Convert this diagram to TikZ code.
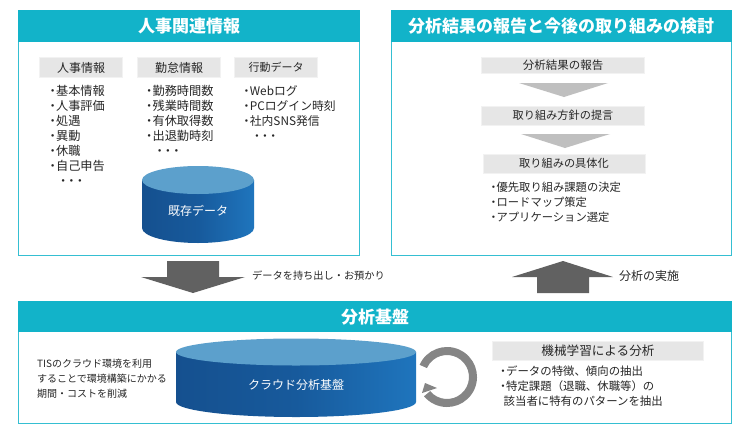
\documentclass[tikz,border=0pt]{standalone}
\usepackage{fontspec}
\setmainfont{Noto Sans CJK JP}
\usetikzlibrary{arrows.meta}
\definecolor{headfill}{HTML}{12B3C9}
\definecolor{panelline}{HTML}{35BFD2}
\definecolor{labelfill}{HTML}{E6E6E6}
\definecolor{flow}{HTML}{BFBFBF}
\definecolor{bigarrow}{HTML}{616161}
\definecolor{ring}{HTML}{858585}
\definecolor{disktop}{HTML}{5CA0CC}
\definecolor{bodytext}{HTML}{262626}
\definecolor{diskdark}{HTML}{15508F}
\definecolor{diskmid}{HTML}{175A9C}
\definecolor{disklight}{HTML}{1F75BD}
\definecolor{diskend}{HTML}{155C9E}
\pgfdeclarehorizontalshading{diskside}{100bp}{
  color(0bp)=(diskdark); color(25bp)=(diskdark); color(50bp)=(diskmid);
  color(75bp)=(disklight); color(100bp)=(diskend)}
\newcommand{\bul}{\kern-.3em・\kern-.22em}
\newcommand{\moredots}{・\kern-.32em・\kern-.32em・}
\tikzset{
  panel/.style={fill=panelline},
  headbar/.style={fill=headfill},
  headtext/.style={white,font=\bfseries\fontsize{17}{20}\selectfont},
  labelbox/.style={fill=labelfill,draw=white!95!black,line width=1pt},
  labeltext/.style={bodytext,font=\fontsize{12}{15}\selectfont},
  listtext/.style={bodytext,font=\fontsize{12.2}{15}\selectfont,align=left,anchor=north west,inner sep=0pt},
  sidetext/.style={bodytext,font=\fontsize{10.2}{15}\selectfont,anchor=west,inner sep=0pt},
  disktext/.style={white,font=\fontsize{12}{15}\selectfont},
}
\begin{document}
\begin{tikzpicture}[x=1pt,y=-1pt]
  \useasboundingbox (0,0) rectangle (755,437);
  \fill[white] (0,0) rectangle (755,437);

  % Left panel
  \fill[panel] (18,10) rectangle (359.5,255.5);
  \fill[white] (19,42) rectangle (358.5,254.5);
  \fill[headbar] (18,10) rectangle (359.5,42);
  \node[headtext] (leftTitle) at (189,26) {人事関連情報};

  \draw[labelbox] (39.5,57.5) rectangle (122,77);
  \node[labeltext] (jinjiLabel) at (81,67.5) {人事情報};
  \draw[labelbox] (137.5,57.5) rectangle (220,77);
  \node[labeltext] (kintaiLabel) at (179,67.5) {勤怠情報};
  \draw[labelbox] (234.5,57.5) rectangle (317,77);
  \node[labeltext,font=\fontsize{11}{15}\selectfont] (kodoLabel) at (276,67.5) {行動データ};

  \node[listtext] (jinjiList) at (50,85) {\bul 基本情報\\\bul 人事評価\\\bul 処遇\\\bul 異動\\\bul 休職\\\bul 自己申告\\\hspace*{7pt}\moredots};
  \node[listtext] (kintaiList) at (146.5,85) {\bul 勤務時間数\\\bul 残業時間数\\\bul 有休取得数\\\bul 出退勤時刻\\\hspace*{7pt}\moredots};
  \node[listtext,font=\fontsize{11.8}{15}\selectfont] (kodoList) at (244,85) {\bul Webログ\\\bul PCログイン時刻\\\bul 社内SNS発信\\\hspace*{7pt}\moredots};

  % Existing data disk
  \shade[shading=diskside] (142,180) -- (142,228) arc[start angle=180,end angle=0,x radius=56,y radius=15] -- (254,180) -- cycle;
  \fill[disktop] (198,180) ellipse [x radius=56,y radius=14];
  \node[disktext] (oldDisk) at (198,211) {既存データ};

  % Right panel
  \fill[panel] (391,10) rectangle (731.5,255.5);
  \fill[white] (392,42) rectangle (730.5,254.5);
  \fill[headbar] (391,10) rectangle (731.5,42);
  \node[headtext] (rightTitle) at (561,26) {分析結果の報告と今後の取り組みの検討};

  \draw[labelbox] (481,57) rectangle (644,73.5);
  \node[labeltext,font=\fontsize{11.5}{15}\selectfont] (reportLabel) at (563,65.5) {分析結果の報告};
  \fill[flow] (519,83) -- (608,83) -- (564,97) -- cycle;
  \draw[labelbox] (481,106) rectangle (644,125);
  \node[labeltext,font=\fontsize{11.2}{15}\selectfont] (policyLabel) at (563,115.5) {取り組み方針の提言};
  \fill[flow] (521,134) -- (610,134) -- (565,148) -- cycle;
  \draw[labelbox] (483,154) rectangle (645,173);
  \node[labeltext,font=\fontsize{11.2}{15}\selectfont] (planLabel) at (564,163.5) {取り組みの具体化};
  \node[listtext,font=\fontsize{11.3}{15}\selectfont] (planList) at (491,182) {\bul 優先取り組み課題の決定\\\bul ロードマップ策定\\\bul アプリケーション選定};

  % Big arrows
  \fill[bigarrow] (167,261) -- (219,261) -- (219,277) -- (245,277) -- (193,293) -- (141,277) -- (167,277) -- cycle;
  \node[sidetext] (outText) at (252,276) {データを持ち出し・お預かり};
  \fill[bigarrow] (537,293) -- (589,293) -- (589,277) -- (613,277) -- (563,261) -- (512,277) -- (537,277) -- cycle;
  \node[sidetext,font=\fontsize{12}{15}\selectfont] (doText) at (619,276) {分析の実施};

  % Bottom panel
  \fill[panel] (18,301) rectangle (731.5,423.5);
  \fill[white] (19,332) rectangle (730.5,422.5);
  \fill[headbar] (18,301) rectangle (731.5,332);
  \node[headtext] (baseTitle) at (375,317) {分析基盤};

  \node[listtext,font=\fontsize{10}{15}\selectfont] (tisText) at (37,359) {TISのクラウド環境を利用\\することで環境構築にかかる\\期間・コストを削減};

  % Cloud disk
  \shade[shading=diskside] (176,352) -- (176,402) arc[start angle=180,end angle=0,x radius=120,y radius=15] -- (416,352) -- cycle;
  \fill[disktop] (296,352) ellipse [x radius=120,y radius=13.5];
  \node[disktext] (cloudDisk) at (296,385) {クラウド分析基盤};

  % Loop arrow
  \fill[ring] (419.6,364.8) arc[start angle=204,end angle=500,radius=30] -- (430.15,391.14) arc[start angle=500,end angle=204,radius=22] -- cycle;
  \fill[ring] (422,393) -- (437,388) -- (425,383) -- cycle;

  % Machine learning box
  \draw[labelbox] (492,341) rectangle (703,360);
  \node[labeltext,font=\fontsize{12.6}{15}\selectfont] (mlLabel) at (598,351) {機械学習による分析};
  \node[listtext,font=\fontsize{11.4}{15}\selectfont] (mlList) at (500.5,366) {\bul データの特徴、傾向の抽出\\\bul 特定課題（退職、休職等）の\\\hspace*{3pt}該当者に特有のパターンを抽出};
\end{tikzpicture}
\end{document}
